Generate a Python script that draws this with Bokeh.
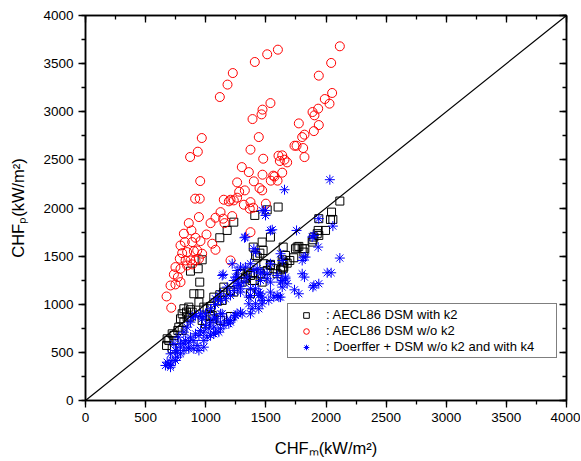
from bokeh.plotting import figure
from bokeh.models import LinearAxis, SingleIntervalTicker, Range1d, Legend, LegendItem
from bokeh.embed import file_html
from bokeh.resources import INLINE

# ---------------- data ----------------
# AECL86 DSM with k2 (black squares)
k2_x = [1602, 1408, 1511, 1233, 1178, 1117, 970, 937, 873, 950,
        901, 950, 1117, 1150, 1206, 1233, 1067, 1100, 1040, 984,
        943, 859, 818, 887, 804, 790, 845, 818, 776, 721,
        804, 679, 735, 674, 721, 1040, 1067, 1123, 1206, 998,
        970, 1289, 1330, 1372, 1405, 1395, 1414, 1469, 1477, 1483,
        1511, 1566, 1594, 1636, 1649, 1663, 1732, 1746, 1802, 1816,
        1885, 1899, 1927, 1996, 2115, 2046, 2037, 2057, 1940, 1935,
        1940, 1891, 1774, 1824, 1677, 1644, 1636, 1644, 1538, 1760,
        1699, 1538, 1622, 1450, 1428, 1303, 1345, 1386, 1372, 1469,
        1455, 840, 873, 867, 768, 735, 693, 1011, 1054, 1150,
        1137, 1303, 1330, 1400, 1538, 1649]
k2_y = [2010, 1923, 1981, 1853, 1767, 1691, 1462, 1369, 1344, 1230,
        1109, 1109, 1099, 1126, 1143, 1126, 1074, 1032, 977, 970,
        1022, 970, 953, 918, 901, 849, 866, 814, 762, 693,
        728, 641, 624, 572, 537, 873, 849, 832, 873, 797,
        832, 1317, 1265, 1299, 1247, 1594, 1507, 1646, 1559, 1421,
        1351, 1369, 1317, 1386, 1438, 1507, 1483, 1577, 1577, 1542,
        1646, 1698, 1733, 1767, 2072, 1957, 1881, 1881, 1889, 1767,
        1715, 1670, 1601, 1577, 1427, 1369, 1462, 1594, 1698, 1594,
        1455, 1414, 1358, 1531, 1490, 1317, 1334, 1247, 1109, 1230,
        1317, 918, 943, 866, 728, 676, 624, 953, 884, 1178,
        1040, 1230, 1282, 1317, 1403, 1386]

# AECL86 DSM w/o k2 (red circles)
nok2_x = [1408, 1511, 1600, 1225, 1181, 1117, 1538, 1472, 1464, 1389,
          1441, 967, 934, 870, 1372, 1478, 1605, 1616, 1300, 1358,
          954, 1261, 1472, 1561, 1400, 1541, 1597, 1325, 1278, 1447,
          1469, 912, 950, 1150, 1206, 1261, 2115, 2043, 1940, 2051,
          1990, 2029, 1935, 1888, 1904, 1774, 1940, 1899, 1821, 1802,
          1738, 1755, 1810, 1821, 1636, 1655, 1677, 1636, 1572, 1192,
          1233, 1372, 1395, 1366, 1500, 1317, 1123, 1081, 1040, 943,
          859, 818, 881, 915, 826, 887, 956, 1006, 1054, 1081,
          790, 804, 845, 901, 929, 970, 784, 832, 873, 915,
          943, 748, 790, 845, 887, 735, 768, 707, 748, 790,
          674, 713, 1206, 1372, 1145, 1156, 1220]
nok2_y = [3517, 3597, 3645, 3402, 3282, 3153, 3090, 3022, 2973, 2924,
          2737, 2727, 2585, 2530, 2606, 2512, 2543, 2488, 2425, 2373,
          2280, 2266, 2346, 2336, 2277, 2284, 2284, 2183, 2169, 2207,
          2183, 2097, 2097, 2086, 2086, 2107, 3680, 3507, 3375, 3195,
          3132, 3084, 3032, 2997, 2963, 2879, 2862, 2799, 2762, 2737,
          2647, 2647, 2623, 2529, 2547, 2502, 2474, 2367, 2328, 2069,
          2079, 2061, 2003, 1993, 2045, 2034, 1957, 1899, 1843, 1906,
          1843, 1733, 1767, 1691, 1646, 1646, 1656, 1725, 1629, 1566,
          1611, 1531, 1542, 1552, 1559, 1525, 1473, 1455, 1455, 1455,
          1473, 1386, 1369, 1403, 1414, 1310, 1282, 1195, 1206, 1230,
          1081, 964, 1455, 1749, 1889, 1843, 1916]

# Doerffer + DSM w/o k2 and with k4 (blue asterisks)
doe_x = [2032, 1655, 1755, 1940, 2057, 1899, 1935, 2115, 1816, 1802,
         1622, 2010, 2043, 1802, 1821, 1663, 1636, 1899, 1940, 1891,
         1738, 1774, 1622, 1497, 1497, 1469, 1538, 1330, 1400, 1414,
         1885, 1636, 1220, 1330, 1372, 1400, 1455, 1145, 1247, 1275,
         1317, 1345, 1455, 1511, 1538, 1594, 1622, 1663, 1677, 1636,
         1455, 1469, 1538, 1608, 1414, 1441, 1233, 1178, 1123, 1081,
         1261, 1289, 1372, 1358, 1322, 1553, 1137, 1428, 1469, 1511,
         1538, 1261, 1289, 1233, 1206, 1164, 1123, 1081, 1040, 998,
         970, 1372, 1441, 1469, 1441, 1386, 1372, 1303, 1358, 1594,
         1524, 1137, 1067, 1178, 1233, 1261, 1123, 1067, 1026, 984,
         943, 901, 859, 818, 790, 763, 707, 679, 707, 748,
         818, 859, 929, 984, 1011, 1067, 1109, 1150, 1206, 1566,
         1414, 1469, 1289, 1247, 1206, 1192, 1123, 1081, 1040, 984,
         943, 901, 859, 790, 763, 721, 693, 707, 665, 748,
         790, 832, 873, 915, 956, 998, 1040, 1081, 1123, 887,
         915, 873, 956, 970, 845, 818, 776, 735, 1289, 1261,
         1830]
doe_y = [2294, 2190, 1767, 1889, 1812, 1715, 1594, 1480, 1490, 1455,
         1525, 1327, 1327, 1317, 1282, 1282, 1247, 1195, 1213, 1178,
         1150, 1109, 1074, 1975, 1923, 1975, 1767, 1698, 1577, 1542,
         1698, 1455, 1421, 1386, 1421, 1351, 1317, 1310, 1282, 1213,
         1230, 1282, 1247, 1265, 1230, 1299, 1230, 1265, 1213, 1178,
         1109, 1074, 1126, 1074, 1161, 1126, 1247, 1178, 1109, 1057,
         1195, 1126, 1161, 1074, 1691, 1774, 1299, 1369, 1334, 1317,
         1421, 1282, 1161, 1143, 1091, 1057, 1040, 998, 953, 901,
         866, 1091, 1091, 1005, 953, 953, 901, 901, 1005, 1091,
         1040, 901, 866, 832, 866, 901, 814, 762, 745, 710,
         676, 624, 606, 589, 554, 502, 485, 398, 364, 416,
         520, 537, 572, 624, 658, 693, 710, 780, 814, 1074,
         1005, 1040, 918, 884, 832, 797, 745, 710, 676, 554,
         520, 537, 554, 485, 450, 416, 381, 346, 364, 520,
         589, 624, 658, 693, 728, 780, 814, 849, 901, 866,
         884, 814, 901, 849, 762, 710, 658, 589, 1386, 1351,
         1490]

# parity line y = x
diag_x = [0, 4000]
diag_y = [0, 4000]

axis_min, axis_max, tick_step = 0, 4000, 500
x_title = "CHF\u2098(kW/m\u00b2)"
y_title = "CHF\u209a(kW/m\u00b2)"
legend_labels = [": AECL86 DSM with k2", ": AECL86 DSM w/o k2", ": Doerffer + DSM w/o k2 and with k4"]

FONT = "Liberation Sans"

# ---------------- figure ----------------
p = figure(width=580, height=460, output_backend="svg", toolbar_location=None,
           x_range=Range1d(axis_min, axis_max), y_range=Range1d(axis_min, axis_max),
           x_axis_type=None, y_axis_type=None,
           min_border_left=85, min_border_right=14, min_border_top=15, min_border_bottom=60)
p.background_fill_color = "white"
p.border_fill_color = "white"
p.outline_line_color = "black"
p.outline_line_width = 1.5


def make_axis(with_labels, title=None, title_standoff=0):
    ax = LinearAxis(ticker=SingleIntervalTicker(interval=tick_step, num_minor_ticks=2))
    ax.axis_line_color = "black"
    ax.axis_line_width = 1.5
    ax.major_tick_line_color = "black"
    ax.minor_tick_line_color = "black"
    ax.major_tick_line_width = 1.3
    ax.minor_tick_line_width = 1.3
    if with_labels:
        ax.major_tick_out = 7
        ax.major_tick_in = 0
        ax.minor_tick_out = 4
        ax.minor_tick_in = 0
        ax.major_label_text_font = FONT
        ax.major_label_text_font_size = "13.5px"
        ax.major_label_text_color = "black"
        ax.major_label_standoff = 5
        ax.axis_label = title
        ax.axis_label_text_font = FONT
        ax.axis_label_text_font_size = "16.5px"
        ax.axis_label_text_font_style = "normal"
        ax.axis_label_text_color = "black"
        ax.axis_label_standoff = title_standoff
    else:
        ax.major_tick_out = 0
        ax.major_tick_in = 7
        ax.minor_tick_out = 0
        ax.minor_tick_in = 4
        ax.major_label_text_font_size = "0px"
        ax.major_label_text_color = None
        ax.major_label_standoff = 0
    return ax


p.add_layout(make_axis(True, x_title, 14), "below")
p.add_layout(make_axis(True, y_title, 13), "left")
p.add_layout(make_axis(False), "above")
p.add_layout(make_axis(False), "right")

r_k2 = p.scatter(k2_x, k2_y, marker="square", size=8, fill_color=None,
                 line_color="black", line_width=1)
r_nok2 = p.scatter(nok2_x, nok2_y, marker="circle", size=9, fill_color=None,
                   line_color="red", line_width=1)
r_doe = p.scatter(doe_x, doe_y, marker="asterisk", size=10, line_color="blue", line_width=1)
p.line(diag_x, diag_y, line_color="black", line_width=1.2)

legend = Legend(items=[LegendItem(label=legend_labels[0], renderers=[r_k2]),
                       LegendItem(label=legend_labels[1], renderers=[r_nok2]),
                       LegendItem(label=legend_labels[2], renderers=[r_doe])],
                location=(202, 42), orientation="vertical")
legend.margin = 0
legend.padding = 3
legend.spacing = 1
legend.glyph_width = 30
legend.glyph_height = 14
legend.label_height = 14
legend.label_width = 227
legend.label_standoff = 5
legend.label_text_font = FONT
legend.label_text_font_size = "13px"
legend.label_text_color = "black"
legend.border_line_color = "black"
legend.border_line_width = 1.5
legend.background_fill_color = "white"
legend.background_fill_alpha = 1.0
p.add_layout(legend)

open("out.html", "w").write(file_html(p, INLINE))
